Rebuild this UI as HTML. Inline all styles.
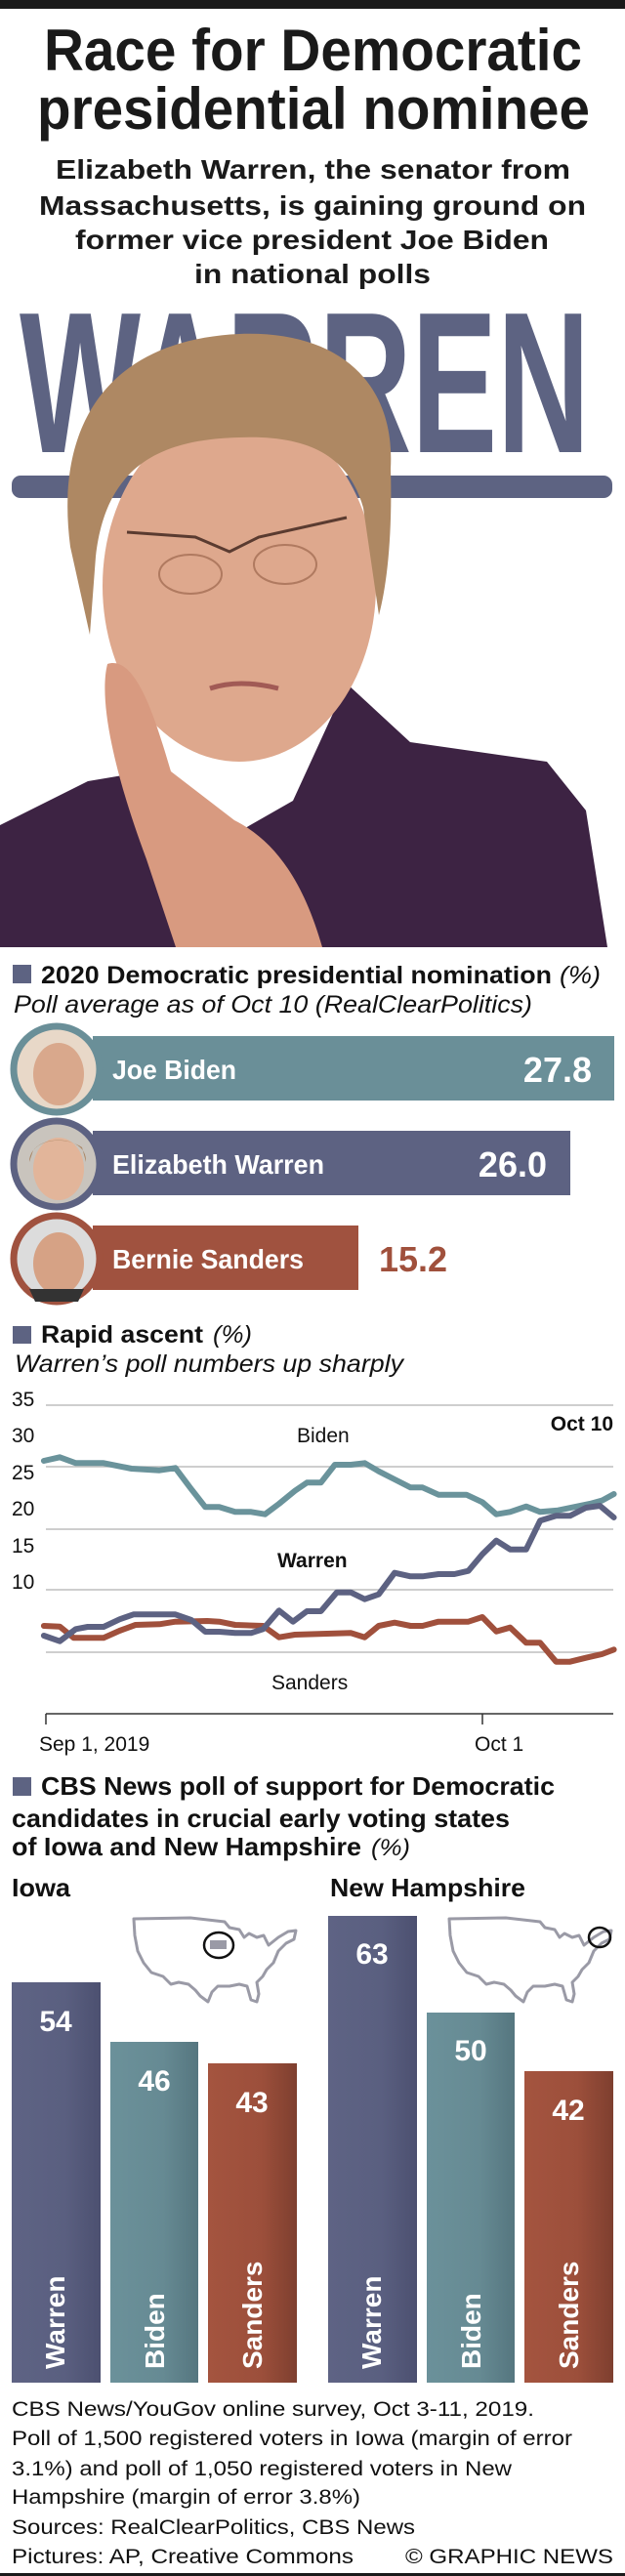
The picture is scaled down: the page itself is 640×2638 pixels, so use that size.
<!DOCTYPE html>
<html><head><meta charset="utf-8"><style>
html,body{margin:0;padding:0;background:#fff}
svg{display:block}
text{font-family:"Liberation Sans",Arial,sans-serif}
</style></head><body>
<svg width="640" height="2638" viewBox="0 0 640 2638" xmlns="http://www.w3.org/2000/svg">
<defs>
<linearGradient id="gw" x1="0" x2="1"><stop offset="0" stop-color="#5e6384"/><stop offset="0.6" stop-color="#5a5f80"/><stop offset="1" stop-color="#4c5070"/></linearGradient>
<linearGradient id="gb" x1="0" x2="1"><stop offset="0" stop-color="#6b919a"/><stop offset="0.6" stop-color="#668a93"/><stop offset="1" stop-color="#55767f"/></linearGradient>
<linearGradient id="gs" x1="0" x2="1"><stop offset="0" stop-color="#a4543f"/><stop offset="0.6" stop-color="#9c4f3b"/><stop offset="1" stop-color="#7e3f2f"/></linearGradient>
<path id="us" d="M2,3 L60,2 L95,6 L100,12 L110,14 L115,22 L120,18 L128,22 L135,20 L140,30 L150,22 L160,16 L168,15 L166,24 L158,28 L150,36 L145,48 L138,55 L134,62 L128,68 L130,80 L128,88 L122,86 L118,72 L110,70 L100,72 L88,72 L82,78 L78,88 L70,82 L65,76 L58,70 L48,68 L40,70 L32,62 L20,58 L12,48 L6,36 L3,20 Z" fill="none" stroke="#9a9aa6" stroke-width="3" stroke-linejoin="round"/>
</defs>
<rect x="0" y="0" width="640" height="9" fill="#1a1a1a"/>
<text x="45" y="72" font-size="60" font-weight="bold" fill="#1a1a1a" textLength="551" lengthAdjust="spacingAndGlyphs">Race for Democratic</text>
<text x="38" y="132" font-size="60" font-weight="bold" fill="#1a1a1a" textLength="566" lengthAdjust="spacingAndGlyphs">presidential nominee</text>
<g font-size="28" font-weight="bold" fill="#1a1a1a">
<text x="57" y="183" textLength="527" lengthAdjust="spacingAndGlyphs">Elizabeth Warren, the senator from</text>
<text x="40" y="220" textLength="560" lengthAdjust="spacingAndGlyphs">Massachusetts, is gaining ground on</text>
<text x="77" y="255" textLength="485" lengthAdjust="spacingAndGlyphs">former vice president Joe Biden</text>
<text x="199" y="290" textLength="242" lengthAdjust="spacingAndGlyphs">in national polls</text>
</g>
<text x="20" y="463" font-size="206" font-weight="bold" fill="#5d6382" textLength="584" lengthAdjust="spacingAndGlyphs">WARREN</text>
<rect x="12" y="487" width="615" height="23" rx="9" fill="#5d6382"/>
<path d="M0,845 L90,800 L150,790 L230,860 L300,820 L355,700 L420,760 L560,780 L600,830 L622,970 L0,970 Z" fill="#3d2343"/>
<ellipse cx="245" cy="600" rx="140" ry="180" fill="#dea88d"/>
<path d="M72,560 C55,430 115,348 245,342 C345,338 405,390 400,480 C402,550 396,600 388,630 L372,520 C358,470 320,445 245,448 C160,450 108,480 98,570 L92,650 Z" fill="#ae8863"/>
<path d="M130,545 L200,550 L235,565 L265,550 L355,530" fill="none" stroke="#5a3b30" stroke-width="3"/>
<ellipse cx="195" cy="588" rx="32" ry="20" fill="none" stroke="#b07a60" stroke-width="2"/>
<ellipse cx="292" cy="578" rx="32" ry="20" fill="none" stroke="#b07a60" stroke-width="2"/>
<path d="M215,705 Q245,695 285,705" fill="none" stroke="#a15a55" stroke-width="5"/>
<path d="M110,680 C140,670 160,740 175,790 L240,840 C280,860 310,900 330,970 L180,970 L150,880 C120,800 100,720 110,680 Z" fill="#d89a80"/>
<rect x="13" y="988" width="19" height="19" fill="#5d6382"/>
<text x="42" y="1007" font-size="25" font-weight="bold" fill="#111" textLength="523" lengthAdjust="spacingAndGlyphs">2020 Democratic presidential nomination</text>
<text x="573" y="1007" font-size="25" font-style="italic" fill="#111" textLength="42" lengthAdjust="spacingAndGlyphs">(%)</text>
<text x="14" y="1037" font-size="25" font-style="italic" fill="#111" textLength="531" lengthAdjust="spacingAndGlyphs">Poll average as of Oct 10 (RealClearPolitics)</text>
<rect x="95" y="1061" width="534" height="66" fill="#6a8f98"/>
<rect x="95" y="1158" width="489" height="66" fill="#5d6282"/>
<rect x="95" y="1255" width="272" height="66" fill="#a0523f"/>
<g>
<circle cx="58" cy="1095" r="44" fill="#e8d8c8" stroke="#6a8f98" stroke-width="7"/>
<ellipse cx="60" cy="1100" rx="26" ry="32" fill="#d9a88c"/>
<circle cx="58" cy="1192" r="44" fill="#c9c4bd" stroke="#5d6282" stroke-width="7"/>
<ellipse cx="60" cy="1197" rx="26" ry="32" fill="#e2b59a"/>
<path d="M30,1190 C30,1160 90,1160 88,1190 L84,1175 C70,1165 45,1165 34,1178 Z" fill="#a98563"/>
<circle cx="58" cy="1289" r="44" fill="#dcdcdc" stroke="#a0523f" stroke-width="7"/>
<ellipse cx="60" cy="1294" rx="26" ry="32" fill="#d6a285"/>
<path d="M30,1320 L86,1320 L80,1333 L36,1333 Z" fill="#333"/>
</g>
<g font-size="28" font-weight="bold" fill="#fff">
<text x="115" y="1105" textLength="127" lengthAdjust="spacingAndGlyphs">Joe Biden</text>
<text x="115" y="1202" textLength="217" lengthAdjust="spacingAndGlyphs">Elizabeth Warren</text>
<text x="115" y="1299" textLength="196" lengthAdjust="spacingAndGlyphs">Bernie Sanders</text>
</g>
<g font-size="36" font-weight="bold">
<text x="606" y="1108" fill="#fff" text-anchor="end">27.8</text>
<text x="560" y="1205" fill="#fff" text-anchor="end">26.0</text>
<text x="388" y="1302" fill="#a0503c">15.2</text>
</g>
<rect x="13" y="1358" width="19" height="18" fill="#5d6382"/>
<text x="42" y="1375" font-size="25" font-weight="bold" fill="#111" textLength="166" lengthAdjust="spacingAndGlyphs">Rapid ascent</text>
<text x="218" y="1375" font-size="25" font-style="italic" fill="#111" textLength="40" lengthAdjust="spacingAndGlyphs">(%)</text>
<text x="15" y="1405" font-size="25" font-style="italic" fill="#111" textLength="398" lengthAdjust="spacingAndGlyphs">Warren’s poll numbers up sharply</text>
<g stroke="#bdbdbd" stroke-width="1.5">
<line x1="47" y1="1439" x2="628" y2="1439"/>
<line x1="47" y1="1502" x2="628" y2="1502"/>
<line x1="47" y1="1566" x2="628" y2="1566"/>
<line x1="47" y1="1628" x2="628" y2="1628"/>
<line x1="47" y1="1692" x2="628" y2="1692"/>
</g>
<g font-size="21" fill="#111">
<text x="12" y="1440">35</text>
<text x="12" y="1477">30</text>
<text x="12" y="1515">25</text>
<text x="12" y="1552">20</text>
<text x="12" y="1590">15</text>
<text x="12" y="1627">10</text>
</g>
<g fill="none" stroke-width="6" stroke-linejoin="round" stroke-linecap="round">
<polyline stroke="#6a939b" points="44.9,1496 61.2,1492.3 77.6,1498.3 106.1,1498.3 134.7,1504 163.3,1505.7 179.6,1503.3 195.9,1525 210.2,1543.3 224.5,1543.3 240.8,1548.3 257.1,1548.3 271.4,1550.7 285.7,1540 302,1526.7 314.3,1518.3 328.6,1518.3 342.9,1500 359.2,1500 373.5,1498.3 387.8,1506.7 404.1,1515 420.4,1523.3 432.7,1523.3 449,1530.7 477.6,1530.7 493.9,1538.3 508.2,1550.7 522.4,1548.3 538.8,1542.7 553.1,1548.3 571.4,1546.7 587.8,1543.3 604.1,1540 616.3,1536.7 628.6,1530"/>
<polyline stroke="#a0503c" points="44.9,1665 61.2,1665.7 75.5,1677.3 106.1,1677.3 122.4,1670 138.8,1664 163.3,1663.3 179.6,1660.7 212.2,1660 224.5,1660.7 240.8,1664 269.4,1665 285.7,1676.7 302,1674 326.5,1673.3 359.2,1672.3 373.5,1676.7 387.8,1665 404.1,1661.7 420.4,1665 432.7,1665 449,1660.7 479.6,1660.7 493.9,1656 508.2,1670.7 522.4,1666.7 538.8,1682.3 553.1,1682.3 569.4,1701.7 583.7,1701.7 600,1697.7 616.3,1694 628.6,1689.3"/>
<polyline stroke="#5d6282" points="44.9,1675 61.2,1680.7 77.6,1668.3 89.8,1666 106.1,1666 122.4,1658.3 136.7,1653.3 179.6,1653.3 195.9,1659 210.2,1671 224.5,1671 240.8,1672.3 257.1,1672.3 269.4,1668.3 285.7,1649.3 300,1660.7 314.3,1650 328.6,1650 344.9,1630.7 359.2,1630.7 373.5,1637.7 387.8,1632.7 404.1,1610.7 420.4,1614.3 432.7,1614.3 449,1612 465.3,1612 479.6,1608.7 493.9,1591.7 508.2,1577.7 522.4,1586.7 538.8,1586.7 553.1,1557.3 569.4,1552.3 583.7,1552.3 600,1544 614.3,1542 628.6,1554"/>
</g>
<text x="628" y="1465" font-size="21" font-weight="bold" fill="#111" text-anchor="end">Oct 10</text>
<text x="304" y="1477" font-size="21" fill="#111">Biden</text>
<text x="284" y="1605" font-size="21" font-weight="bold" fill="#111">Warren</text>
<text x="278" y="1730" font-size="21" fill="#111">Sanders</text>
<g stroke="#333" stroke-width="1.5">
<line x1="47" y1="1755" x2="628" y2="1755"/>
<line x1="47" y1="1755" x2="47" y2="1766"/>
<line x1="494" y1="1755" x2="494" y2="1766"/>
</g>
<text x="40" y="1793" font-size="21" fill="#111">Sep 1, 2019</text>
<text x="486" y="1793" font-size="21" fill="#111">Oct 1</text>
<rect x="13" y="1820" width="19" height="19" fill="#5d6382"/>
<g font-size="26" font-weight="bold" fill="#111">
<text x="42" y="1838" textLength="526" lengthAdjust="spacingAndGlyphs">CBS News poll of support for Democratic</text>
<text x="12" y="1871" textLength="510" lengthAdjust="spacingAndGlyphs">candidates in crucial early voting states</text>
<text x="12" y="1900" textLength="358" lengthAdjust="spacingAndGlyphs">of Iowa and New Hampshire</text>
<text x="12" y="1942" textLength="60" lengthAdjust="spacingAndGlyphs">Iowa</text>
<text x="338" y="1942" textLength="200" lengthAdjust="spacingAndGlyphs">New Hampshire</text>
</g>
<text x="380" y="1900" font-size="24" font-style="italic" fill="#111" textLength="40" lengthAdjust="spacingAndGlyphs">(%)</text>
<use href="#us" transform="translate(135,1962)"/>
<ellipse cx="224" cy="1992" rx="15" ry="13" fill="none" stroke="#111" stroke-width="2.5"/>
<rect x="215" y="1987" width="17" height="9" fill="#9a9aa6"/>
<use href="#us" transform="translate(458,1962)"/>
<ellipse cx="614" cy="1984" rx="11" ry="10" fill="none" stroke="#111" stroke-width="2.5"/>
<rect x="12" y="2030" width="91" height="410" fill="url(#gw)"/>
<rect x="113" y="2091" width="90" height="349" fill="url(#gb)"/>
<rect x="213" y="2113" width="91" height="327" fill="url(#gs)"/>
<rect x="336" y="1962" width="91" height="478" fill="url(#gw)"/>
<rect x="437" y="2061" width="90" height="379" fill="url(#gb)"/>
<rect x="537" y="2121" width="91" height="319" fill="url(#gs)"/>
<g font-size="30" font-weight="bold" fill="#fff" text-anchor="middle">
<text x="57" y="2080">54</text>
<text x="158" y="2141">46</text>
<text x="258" y="2163">43</text>
<text x="381" y="2011">63</text>
<text x="482" y="2110">50</text>
<text x="582" y="2171">42</text>
</g>
<g font-size="28" font-weight="bold" fill="#fff">
<text transform="translate(66,2426) rotate(-90)">Warren</text>
<text transform="translate(168,2426) rotate(-90)">Biden</text>
<text transform="translate(268,2426) rotate(-90)">Sanders</text>
<text transform="translate(390,2426) rotate(-90)">Warren</text>
<text transform="translate(492,2426) rotate(-90)">Biden</text>
<text transform="translate(592,2426) rotate(-90)">Sanders</text>
</g>
<g font-size="21" fill="#111">
<text x="12" y="2474" textLength="535" lengthAdjust="spacingAndGlyphs">CBS News/YouGov online survey, Oct 3-11, 2019.</text>
<text x="12" y="2504" textLength="574" lengthAdjust="spacingAndGlyphs">Poll of 1,500 registered voters in Iowa (margin of error</text>
<text x="12" y="2535" textLength="512" lengthAdjust="spacingAndGlyphs">3.1%) and poll of 1,050 registered voters in New</text>
<text x="12" y="2564" textLength="357" lengthAdjust="spacingAndGlyphs">Hampshire (margin of error 3.8%)</text>
<text x="12" y="2595" textLength="413" lengthAdjust="spacingAndGlyphs">Sources: RealClearPolitics, CBS News</text>
<text x="12" y="2625" textLength="350" lengthAdjust="spacingAndGlyphs">Pictures: AP, Creative Commons</text>
<text x="415" y="2625" textLength="213" lengthAdjust="spacingAndGlyphs">© GRAPHIC NEWS</text>
</g>
<rect x="0" y="2635" width="640" height="3" fill="#1a1a1a"/>
</svg>
</body></html>
